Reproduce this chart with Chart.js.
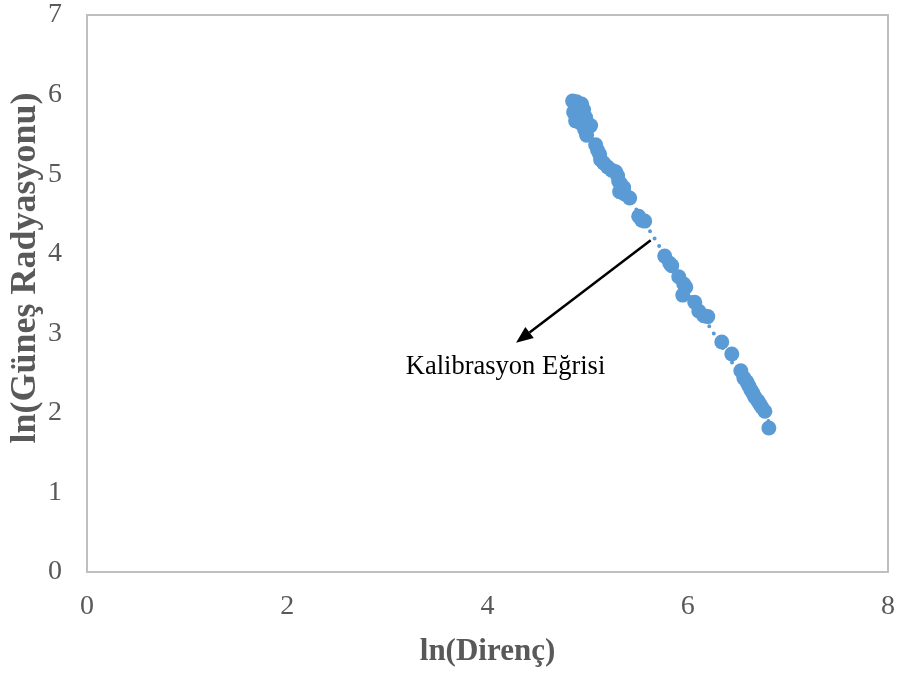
<!DOCTYPE html>
<html>
<head>
<meta charset="utf-8">
<script src="https://cdn.jsdelivr.net/npm/chart.js@4"></script>
<style>
  html, body { margin: 0; padding: 0; background: #fff; }
  #wrap { width: 899px; height: 673px; position: relative; }
</style>
</head>
<body>
<div id="wrap"><canvas id="chart"></canvas></div>
<script>
"use strict";

// ─── Data ──────────────────────────────────────────────────────────────────
const lnDirenc = [
  4.85, 4.89, 4.94, 4.86, 4.91, 4.96, 4.88, 4.93, 4.98, 5.03, 4.97, 4.99,
  5.08, 5.10, 5.12, 5.13, 5.16, 5.20, 5.24, 5.28, 5.30, 5.31, 5.33, 5.36,
  5.32, 5.37, 5.42, 5.51, 5.54, 5.57, 5.77, 5.82, 5.84, 5.91, 5.96, 5.98,
  5.95, 6.07, 6.11, 6.16, 6.20, 6.34, 6.44, 6.53, 6.56, 6.59, 6.61, 6.63,
  6.65, 6.67, 6.70, 6.72, 6.74, 6.77, 6.81,
];
const lnRadyasyon = [
  5.92, 5.91, 5.88, 5.78, 5.77, 5.81, 5.67, 5.64, 5.71, 5.61, 5.56, 5.49,
  5.37, 5.30, 5.25, 5.18, 5.14, 5.09, 5.05, 5.03, 4.98, 4.91, 4.88, 4.83,
  4.78, 4.75, 4.70, 4.47, 4.42, 4.41, 3.97, 3.88, 3.85, 3.71, 3.62, 3.58,
  3.48, 3.39, 3.28, 3.22, 3.21, 2.89, 2.74, 2.53, 2.44, 2.39, 2.34, 2.29,
  2.25, 2.20, 2.15, 2.11, 2.07, 2.02, 1.81,
];

// dotted calibration line (ends hidden under the markers)
const trendX = [4.85, 6.81];
const trendY = [5.84, 1.89];

const xTicks = [0, 2, 4, 6, 8];
const yTicks = [0, 1, 2, 3, 4, 5, 6, 7];

const xTitle = "ln(Direnç)";
const yTitle = "ln(Güneş Radyasyonu)";
const noteText = "Kalibrasyon Eğrisi";
const arrowFrom = { x: 5.63, y: 4.17 };
const arrowTo   = { x: 4.285, y: 2.88 };
const notePos   = { x: 4.18, y: 2.57 };

// ─── Styling ───────────────────────────────────────────────────────────────
const BLUE  = "#5B9BD5";
const GREY  = "#595959";
const FRAME = "#bfbfbf";
const SERIF = "'Liberation Serif', 'Times New Roman', serif";

const points = lnDirenc.map((x, i) => ({ x, y: lnRadyasyon[i] }));
const trend  = trendX.map((x, i) => ({ x, y: trendY[i] }));

// frame, axis titles and the arrow note
const extras = {
  id: "extras",
  beforeDatasetsDraw(chart) {
    const { ctx, chartArea: a } = chart;
    ctx.save();
    ctx.strokeStyle = FRAME;
    ctx.lineWidth = 2;
    ctx.strokeRect(a.left, a.top, a.right - a.left, a.bottom - a.top);
    ctx.restore();
  },
  afterDraw(chart) {
    const { ctx, scales } = chart;
    const sx = scales.x, sy = scales.y;
    ctx.save();

    ctx.fillStyle = GREY;
    ctx.textAlign = "center";
    ctx.textBaseline = "middle";
    ctx.font = "bold 31px " + SERIF;
    ctx.fillText(xTitle, (chart.chartArea.left + chart.chartArea.right) / 2, 652);

    ctx.save();
    ctx.translate(26, 268);
    ctx.rotate(-Math.PI / 2);
    ctx.font = "bold 36px " + SERIF;
    ctx.fillText(yTitle, 0, 0);
    ctx.restore();

    // arrow
    const x1 = sx.getPixelForValue(arrowFrom.x), y1 = sy.getPixelForValue(arrowFrom.y);
    const x2 = sx.getPixelForValue(arrowTo.x),   y2 = sy.getPixelForValue(arrowTo.y);
    const ang = Math.atan2(y2 - y1, x2 - x1);
    const head = 17, half = 7;
    const bx = x2 - head * Math.cos(ang), by = y2 - head * Math.sin(ang);
    ctx.strokeStyle = "#000";
    ctx.fillStyle = "#000";
    ctx.lineWidth = 2.5;
    ctx.beginPath();
    ctx.moveTo(x1, y1);
    ctx.lineTo(bx, by);
    ctx.stroke();
    ctx.beginPath();
    ctx.moveTo(x2, y2);
    ctx.lineTo(bx + half * Math.sin(ang), by - half * Math.cos(ang));
    ctx.lineTo(bx - half * Math.sin(ang), by + half * Math.cos(ang));
    ctx.closePath();
    ctx.fill();

    ctx.font = "26.5px " + SERIF;
    ctx.fillText(noteText, sx.getPixelForValue(notePos.x), sy.getPixelForValue(notePos.y));
    ctx.restore();
  },
};

new Chart(document.getElementById("chart"), {
  type: "scatter",
  data: {
    datasets: [
      {
        label: "ölçüm",
        data: points,
        order: 0,
        backgroundColor: BLUE,
        borderColor: BLUE,
        borderWidth: 0,
        pointRadius: 7.5,
        pointHoverRadius: 7.5,
      },
      {
        label: "trend",
        type: "line",
        data: trend,
        order: 1,
        borderColor: BLUE,
        borderWidth: 4,
        borderDash: [0, 8.6],
        borderCapStyle: "round",
        pointRadius: 0,
        fill: false,
      },
    ],
  },
  options: {
    animation: false,
    responsive: true,
    maintainAspectRatio: false,
    devicePixelRatio: 1,
    layout: { padding: { left: 0, right: 11, top: 15, bottom: 0 } },
    plugins: { legend: { display: false }, tooltip: { enabled: false } },
    scales: {
      x: {
        type: "linear",
        min: 0, max: 8,
        afterBuildTicks: s => { s.ticks = xTicks.map(v => ({ value: v })); },
        afterFit: s => {
          s.height = 101;
          s.paddingLeft = s.paddingRight = 0;
        },
        grid: { display: false, drawTicks: false },
        border: { display: false },
        ticks: { color: GREY, padding: 18, font: { family: SERIF, size: 28 } },
      },
      y: {
        type: "linear",
        min: 0, max: 7,
        afterBuildTicks: s => { s.ticks = yTicks.map(v => ({ value: v })); },
        afterFit: s => {
          s.width = 87;
          s.paddingTop = s.paddingBottom = 0;
        },
        grid: { display: false, drawTicks: false },
        border: { display: false },
        ticks: { color: GREY, padding: 25, font: { family: SERIF, size: 28 } },
      },
    },
  },
  plugins: [extras],
});
</script>
</body>
</html>
